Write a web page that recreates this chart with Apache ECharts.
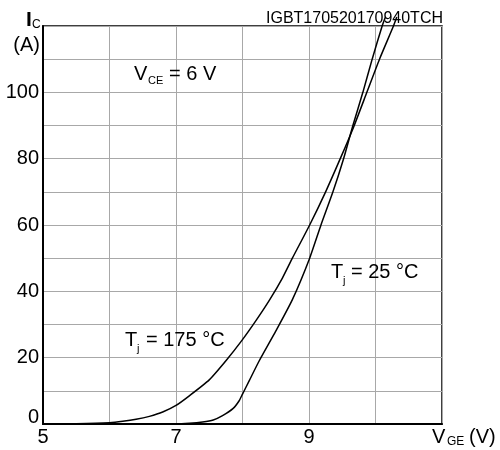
<!DOCTYPE html>
<html>
<head>
<meta charset="utf-8">
<script src="https://cdn.jsdelivr.net/npm/echarts@6/dist/echarts.min.js"></script>
<style>
  html, body { margin: 0; padding: 0; background: #fff; }
  #chart { width: 500px; height: 450px; }
</style>
</head>
<body>
<div id="chart"></div>
<script>
// transfer characteristic, V_CE = 6 V
var vge25 = [5, 6, 7, 7.2, 7.4, 7.56, 7.7, 7.86, 7.95, 8.0, 8.1, 8.25, 8.5, 8.75, 9.01, 9.18, 9.36, 9.52, 9.66, 9.81, 9.95, 10.1, 10.15];
var ic25 = [0, 0, 0, 0.2, 0.6, 1.2, 2.5, 4.7, 7, 9, 13, 19, 28, 37.5, 50, 60, 70, 80, 90, 100, 110, 120, 122.7];

var vge175 = [5, 5.5, 6, 6.2, 6.4, 6.6, 6.8, 7.0, 7.2, 7.5, 7.76, 7.98, 8.21, 8.41, 8.6, 8.75, 9.01, 9.25, 9.47, 9.67, 9.87, 10.06, 10.27, 10.32];
var ic175 = [0, 0.1, 0.4, 0.8, 1.4, 2.3, 3.6, 5.6, 8.5, 13.3, 19.3, 24.9, 31.4, 37.5, 44, 50, 60, 70, 80, 89.5, 100, 110, 120, 122.7];

var xTickLabels = [5, 7, 9];
var yTickLabels = [0, 20, 40, 60, 80, 100];

var FONT = '"Liberation Sans", Arial, sans-serif';

function pairs(xs, ys) {
    return xs.map(function(x, i) { return [x, ys[i]]; });
}

function txt(x, y, s, size, opts) {
    opts = opts || {};
    return {
        type: 'text',
        x: x,
        y: y,
        z: 100,
        style: {
            text: s,
            fill: '#000',
            font: (opts.bold ? 'bold ' : '') + size + 'px ' + FONT,
            textAlign: opts.align || 'left',
            textVerticalAlign: 'middle'
        }
    };
}

var chart = echarts.init(document.getElementById('chart'));

var lineBase = {
    type: 'line',
    showSymbol: false,
    symbol: 'none',
    smooth: 0.2,
    clip: false,
    lineStyle: { color: '#000', width: 1.5 },
    z: 5
};

chart.setOption({
    animation: false,
    backgroundColor: '#fff',
    grid: {
        left: 43,
        right: 58,
        top: 26,
        bottom: 26,
        show: true,
        borderColor: '#000',
        borderWidth: 1.5,
        backgroundColor: 'transparent'
    },
    xAxis: {
        type: 'value',
        min: 5,
        max: 11,
        interval: 1,
        axisLine: { lineStyle: { color: '#000', width: 2 } },
        axisTick: { show: false },
        splitLine: { lineStyle: { color: '#a8a8a8', width: 1 } },
        axisLabel: {
            color: '#000',
            fontSize: 20,
            fontFamily: FONT,
            margin: 3,
            formatter: function(v) {
                return xTickLabels.indexOf(v) >= 0 ? String(v) : '';
            }
        }
    },
    yAxis: {
        type: 'value',
        min: 0,
        max: 120,
        interval: 10,
        axisLine: { lineStyle: { color: '#000', width: 2 } },
        axisTick: { show: false },
        splitLine: { lineStyle: { color: '#a8a8a8', width: 1 } },
        axisLabel: {
            color: '#000',
            fontSize: 20,
            fontFamily: FONT,
            margin: 4,
            formatter: function(v) {
                if (v === 0) return '{z|0}';
                return yTickLabels.indexOf(v) >= 0 ? String(v) : '';
            },
            rich: {
                z: { fontSize: 20, fontFamily: FONT, color: '#000', padding: [0, 0, 14, 0] }
            }
        }
    },
    series: [
        Object.assign({}, lineBase, { name: 'Tj = 25 °C', data: pairs(vge25, ic25) }),
        Object.assign({}, lineBase, { name: 'Tj = 175 °C', data: pairs(vge175, ic175) })
    ],
    graphic: [
        // y axis title
        txt(26, 20, 'I', 21, { bold: true }),
        txt(32, 25, 'C', 12),
        txt(40, 45, '(A)', 20, { align: 'right' }),
        // x axis title
        txt(432, 437, 'V', 20),
        txt(447, 442, 'GE', 12),
        txt(469, 437, '(V)', 20),
        // condition
        txt(134, 74, 'V', 20),
        txt(148, 81, 'CE', 11),
        txt(169, 74, '= 6 V', 20),
        // curve labels
        txt(331, 272, 'T', 20),
        txt(343, 281, 'j', 11),
        txt(351, 272, '= 25 °C', 20),
        txt(125, 340, 'T', 20),
        txt(137, 349, 'j', 11),
        txt(146, 340, '= 175 °C', 20),
        // drawing id
        txt(443, 19, 'IGBT170520170940TCH', 16, { align: 'right' })
    ]
});
</script>
</body>
</html>
